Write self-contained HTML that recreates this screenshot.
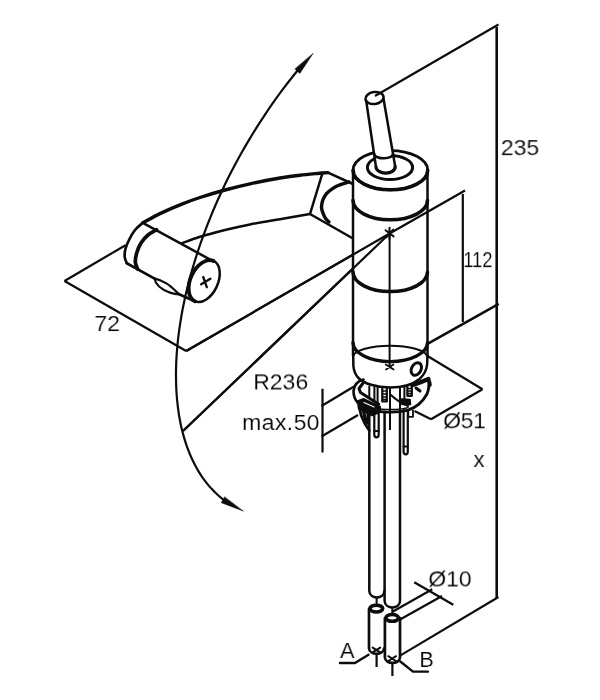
<!DOCTYPE html>
<html lang="en">
<head>
<meta charset="utf-8">
<title>Technical drawing</title>
<style>
html,body{margin:0;padding:0;background:#fff;}
body{width:600px;height:700px;overflow:hidden;}
svg{display:block;filter:grayscale(1);}
svg text{will-change:transform;font-family:"Liberation Sans",sans-serif;fill:#000;}
</style>
</head>
<body>
<svg width="600" height="700" viewBox="0 0 600 700">
<rect x="0" y="0" width="600" height="700" fill="#ffffff"/>
<g fill="none" stroke="#0c0c0c" stroke-linecap="round" stroke-linejoin="round">
<line x1="64.5" y1="281" x2="186.2" y2="351" stroke-width="2.2" stroke-linecap="butt"/>
<line x1="64.5" y1="281" x2="125.5" y2="245.2" stroke-width="2.2" stroke-linecap="butt"/>
<line x1="186.2" y1="351" x2="389.6" y2="233.5" stroke-width="2.2" stroke-linecap="butt"/>
<line x1="183" y1="431" x2="389.6" y2="233.5" stroke-width="2.2" stroke-linecap="butt"/>
<path d="M142.8,222.8 C145.7,221.3 153.4,216.8 160.0,213.6 C166.6,210.4 175.8,206.4 182.5,203.8 C189.2,201.1 192.9,199.8 200.0,197.5 C207.1,195.2 216.7,192.3 225.0,190.0 C233.3,187.7 240.8,185.8 250.0,183.8 C259.2,181.8 271.7,179.4 280.0,178.0 C288.3,176.6 293.0,176.0 300.0,175.2 C307.0,174.4 318.3,173.4 322.0,173.0 L328,172.6 L353,184 L353,238 L310,214 L310,214 L280,219.2 L250,224.4 L225,230 L200,236.8 L181,243.6 Z" stroke-width="0" fill="#fff" stroke="none"/>
<path d="M142.8,222.8 C145.7,221.3 153.4,216.8 160.0,213.6 C166.6,210.4 175.8,206.4 182.5,203.8 C189.2,201.1 192.9,199.8 200.0,197.5 C207.1,195.2 216.7,192.3 225.0,190.0 C233.3,187.7 240.8,185.8 250.0,183.8 C259.2,181.8 271.7,179.4 280.0,178.0 C288.3,176.6 293.0,176.0 300.0,175.2 C307.0,174.4 318.3,173.4 322.0,173.0 L328,172.6" stroke-width="3.4" fill="none" />
<path d="M328,172.6 L353,184" stroke-width="2.5" fill="none" />
<path d="M181.0,243.6 C184.2,242.5 192.7,239.1 200.0,236.8 C207.3,234.5 216.7,232.1 225.0,230.0 C233.3,227.9 240.8,226.2 250.0,224.4 C259.2,222.6 270.0,220.9 280.0,219.2 C290.0,217.5 305.0,214.9 310.0,214.0" stroke-width="2.5" fill="none" />
<path d="M322.5,173 L310,214 L353,238.5" stroke-width="2.5" fill="none" />
<path d="M349.0,182.0 C346.8,182.8 339.9,184.3 336.0,186.5 C332.1,188.7 327.9,191.6 325.5,195.0 C323.1,198.4 321.6,203.2 321.5,207.0 C321.4,210.8 323.8,215.0 325.0,217.5 C326.2,220.0 328.3,221.2 329.0,222.0" stroke-width="3.4" fill="none" />
<path d="M142.8,222.8 C141.5,224.0 137.3,227.1 135.0,230.0 C132.7,232.9 130.6,236.8 129.0,240.0 C127.4,243.2 126.1,246.2 125.4,249.0 C124.7,251.8 124.5,254.6 124.7,257.0 C124.9,259.4 126.5,262.2 126.8,263.2 L193,300.5 L210.4,260 L142.8,222.8 Z" stroke-width="0" fill="#fff" stroke="none"/>
<path d="M142.8,222.8 C141.5,224.0 137.3,227.1 135.0,230.0 C132.7,232.9 130.6,236.8 129.0,240.0 C127.4,243.2 126.1,246.2 125.4,249.0 C124.7,251.8 124.5,254.6 124.7,257.0 C124.9,259.4 126.5,262.2 126.8,263.2" stroke-width="2.7" fill="none" />
<path d="M156.5,229.8 C155.1,230.7 150.6,232.8 148.0,235.0 C145.4,237.2 142.9,240.0 141.0,243.0 C139.1,246.0 137.6,249.8 136.7,253.0 C135.8,256.2 135.2,259.3 135.3,262.0 C135.5,264.7 137.2,267.8 137.6,269.0" stroke-width="3.6999999999999997" fill="none" />
<line x1="142.8" y1="222.8" x2="210.2" y2="259.6" stroke-width="2.5" stroke-linecap="butt"/>
<path d="M126.8,263.2 L154.6,278.6 M179.2,294.2 L193,300.5" stroke-width="2.7" fill="none" />
<path d="M154.4,278.4 C155.5,284.5 161,289.5 170,292.6 C173.5,293.8 176.5,294.3 179.2,294.4 C176,291.5 171.5,286.5 166.4,283.4 C162,280.8 158,279.3 154.4,278.4 Z" stroke-width="2.2" fill="none" />
<ellipse cx="204.2" cy="281.1" rx="13.7" ry="22.2" stroke-width="2.5" fill="#fff" transform="rotate(25 204.2 281.1)"/>
<path d="M204.2,258.9 A13.7,22.2 0 0 0 204.2,303.3" transform="rotate(25 204.2 281.1)" stroke-width="3.8" fill="none"/>
<path d="M201.2,284.3 L210.4,278.8 M203.2,277 L206.8,287.2" stroke-width="2.3" fill="none" />
<path d="M353,170 L353,366 C354,376 362,383 372,385.5 L408,385.5 C418,383 426,376 427.5,366 L427.5,170 Z" stroke-width="0" fill="#fff" stroke="none"/>
<line x1="186.2" y1="351" x2="389.6" y2="233.5" stroke-width="2.2" stroke-linecap="butt"/>
<line x1="183" y1="431" x2="389.6" y2="233.5" stroke-width="2.2" stroke-linecap="butt"/>
<line x1="389.6" y1="233.5" x2="465" y2="190.5" stroke-width="2.2" stroke-linecap="butt"/>
<line x1="353" y1="170" x2="353" y2="356" stroke-width="2.5" stroke-linecap="butt"/>
<line x1="427.5" y1="170" x2="427.5" y2="356" stroke-width="2.5" stroke-linecap="butt"/>
<ellipse cx="390.4" cy="170.2" rx="37.3" ry="19.6" stroke-width="2.8" fill="#fff"/>
<path d="M353.1,170.2 A37.3,19.6 0 0 0 427.7,170.2" stroke-width="3.6" fill="none" />
<ellipse cx="390" cy="167.5" rx="22.6" ry="12" stroke-width="3" fill="none"/>
<path d="M353,200.3 A37.25,19.5 0 0 0 427.5,200.3" stroke-width="3.6" fill="none" />
<path d="M353,272 A37.25,19.5 0 0 0 427.5,272" stroke-width="3.6" fill="none" />
<path d="M353,342.6 A37.25,19 0 0 0 427.5,342.6" stroke-width="3.4" fill="none" />
<path d="M353.2,356 A37,11 0 0 1 427,356" stroke-width="2.0" fill="none" />
<path d="M353.2,356 L353.4,366 C353.8,371 355.5,375 358.5,378 C364,383.5 376,387.4 390,387.6 C402,387.4 413,384.5 419.5,379 C424,375 426.6,370 427.2,364 L427.4,356" stroke-width="2.5" fill="none" />
<line x1="389.6" y1="233.5" x2="389.6" y2="367" stroke-width="2.0" stroke-linecap="butt"/>
<path d="M385.6,230.2 L393.6,236.4 M393.2,229.6 L386.2,237.2 M389.5,227.8 L389.5,239" stroke-width="2" fill="none" />
<path d="M385.8,364.4 L393.6,369.4 M393.4,364.4 L386,369.4" stroke-width="1.8" fill="none" />
<ellipse cx="416.3" cy="369" rx="4.7" ry="6.7" stroke-width="3" fill="none" transform="rotate(28 416.3 369)"/>
<path d="M366,99.5 L376,167 A9.6,6 0 0 0 395.2,166.5 L383.3,97.5 Z" stroke-width="0" fill="#fff" stroke="none"/>
<line x1="366" y1="99.5" x2="376" y2="167" stroke-width="2.5" stroke-linecap="butt"/>
<line x1="383.3" y1="97.5" x2="395.2" y2="166.5" stroke-width="2.5" stroke-linecap="butt"/>
<ellipse cx="374.5" cy="98" rx="9.1" ry="6" stroke-width="2.5" fill="#fff" transform="rotate(-8 374.5 98)"/>
<path d="M376,167 A9.6,6.4 0 0 0 395.2,166.5" stroke-width="3.2" fill="none" />
<path d="M374.4,154.3 A9.2,4.2 0 0 0 393,153.8" stroke-width="2.6" fill="none" />
<line x1="375" y1="96" x2="498.5" y2="24.5" stroke-width="2.1" stroke-linecap="butt"/>
<line x1="496.7" y1="27" x2="496.7" y2="598" stroke-width="2.6" stroke-linecap="butt"/>
<line x1="462.8" y1="194" x2="462.8" y2="322" stroke-width="2.2" stroke-linecap="butt"/>
<line x1="427.5" y1="343.9" x2="498.75" y2="303.9" stroke-width="2.5" stroke-linecap="butt"/>
<line x1="400.5" y1="655.4" x2="498.5" y2="597" stroke-width="2.1" stroke-linecap="butt"/>
<line x1="427.5" y1="356" x2="482.5" y2="389.3" stroke-width="2.2" stroke-linecap="butt"/>
<line x1="431" y1="419.3" x2="482.5" y2="389.3" stroke-width="2.2" stroke-linecap="butt"/>
<line x1="414.5" y1="411" x2="431" y2="419.3" stroke-width="2.2" stroke-linecap="butt"/>
<line x1="322.5" y1="388.75" x2="322.5" y2="452.5" stroke-width="2.2" stroke-linecap="butt"/>
<line x1="321.5" y1="406" x2="354" y2="386.5" stroke-width="2.2" stroke-linecap="butt"/>
<line x1="321.5" y1="436.5" x2="358" y2="415" stroke-width="2.2" stroke-linecap="butt"/>
<path d="M363.5,379.5 C358,381 354,385 353.5,391 C353.5,396 355,400 358,403" stroke-width="2.6" fill="none" />
<path d="M380,411.6 C390,412.6 401,412.2 408,410.2 C416,407.5 423,401.5 427,394 C429,389 429.3,385 428.6,381.5" stroke-width="2.8" fill="none" />
<path d="M381,409.2 C391,410 401,409.6 408,407.6" stroke-width="1.5" fill="none" />
<path d="M391,395 C395,399 401,403 408,406" stroke-width="2" fill="none" />
<path d="M362.8,383.5 L359,388.5 L360.5,392.5 L378.8,404.2" stroke-width="3" fill="none" />
<path d="M369.3,386.5 L369.3,398 M374.4,387 L374.4,402 M377.6,387 L377.6,403.5" stroke-width="2" fill="none" />
<path d="M390,388 L390,412" stroke-width="2" fill="none" />
<path d="M400,387 L400,412 M404.4,387 L404.4,400" stroke-width="2" fill="none" />
<path d="M382.3,388.5 L382.3,401.5 L386.8,401.5 L386.8,388.5" stroke-width="2.2" fill="none" />
<path d="M382.3,391 L386.8,391 M382.3,394 L386.8,394 M382.3,397 L386.8,397 M382.3,399.6 L386.8,399.6" stroke-width="1.6" fill="none" />
<path d="M407.4,386.5 L407.4,396 L411.8,396 L411.8,385.5" stroke-width="2.2" fill="none" />
<path d="M407.4,388.5 L411.8,388.5 M407.4,391 L411.8,391 M407.4,393.6 L411.8,393.6" stroke-width="1.6" fill="none" />
<path d="M401.5,399 L410,399.5 L410.5,404.5 L402,404.5 Z" stroke-width="1.6" fill="#0c0c0c" />
<path d="M408.3,412 L408.3,416.8 L413,416.8 L413,410.5" stroke-width="1.8" fill="none" />
<path d="M412,385.2 L420,382.5 L428.5,379" stroke-width="4.2" fill="none" />
<path d="M425,379.8 L430,381.5 L430.6,385 L428.8,386.5" stroke-width="2.4" fill="none" />
<path d="M416,388 L420,391" stroke-width="3" fill="none" />
<path d="M357.6,401 L363.5,398.8 L380.2,406.6 L380.2,412 L372,415.6 L358.6,408.6 Z" stroke-width="1.6" fill="#0c0c0c" />
<path d="M364,402.5 L374,407" stroke-width="1.2" fill="none" stroke="#fff"/>
<path d="M359.4,408 L361.2,415.5 L364.8,423.5 L369.3,430.5" stroke-width="2.8" fill="none" />
<path d="M363.6,411.5 L365,418 L367.5,423" stroke-width="3.2" fill="none" />
<path d="M367.6,413 L367.6,420" stroke-width="2.4" fill="none" />
<path d="M374.3,413 L374.3,434.5 C374.3,438.2 378.7,438.2 378.7,434.5 L378.7,413" stroke-width="2.2" fill="none" />
<path d="M374.3,431 L378.7,431" stroke-width="2.2" fill="none" />
<path d="M403.6,410 L403.6,451.5 C403.6,455.2 407.8,455.2 407.8,451.5 L407.8,410" stroke-width="2.2" fill="none" />
<path d="M403.6,446.5 L407.8,446.5" stroke-width="2.2" fill="none" />
<line x1="390" y1="412" x2="390" y2="430" stroke-width="2" stroke-linecap="butt"/>
<path d="M369.3,415 L369.3,591 C369.5,599.5 384.2,599.5 384.4,591" stroke-width="2.5" fill="none" />
<path d="M384.6,412 L384.6,601 C385,609.5 399.8,609.5 400,601 L400,412" stroke-width="2.5" fill="none" />
<line x1="376.6" y1="597" x2="376.6" y2="605" stroke-width="2.0" stroke-linecap="butt"/>
<line x1="392.3" y1="607.5" x2="392.3" y2="614" stroke-width="2.0" stroke-linecap="butt"/>
<path d="M369,609 L369,648.5 C369.5,655.5 383.5,655.5 384,648.5" stroke-width="2.7" fill="none" />
<ellipse cx="376.3" cy="608.6" rx="6.4" ry="3.4" stroke-width="3.6" fill="#fff"/>
<path d="M384.9,618 L384.9,657.5 C385.5,664.6 399.6,664.6 400,657.5 L400,618 Z" stroke-width="0" fill="#fff" stroke="none"/>
<path d="M384.9,618 L384.9,657.5 C385.5,664.6 399.6,664.6 400,657.5 L400,618" stroke-width="2.7" fill="none" />
<ellipse cx="392.2" cy="617.9" rx="6.3" ry="3.4" stroke-width="3.6" fill="#fff"/>
<path d="M372.6,647.6 L380.2,652.4 M380.2,647.6 L372.6,652.4" stroke-width="2" fill="none" />
<path d="M388.3,656.2 L396,661 M396,656.2 L388.3,661" stroke-width="2" fill="none" />
<line x1="376.6" y1="655" x2="376.6" y2="667" stroke-width="2.2" stroke-linecap="butt"/>
<line x1="392.4" y1="664" x2="392.4" y2="676" stroke-width="2.2" stroke-linecap="butt"/>
<line x1="392.5" y1="611.8" x2="432.25" y2="589.3" stroke-width="2.2" stroke-linecap="butt"/>
<line x1="400.5" y1="619.3" x2="442" y2="596" stroke-width="2.2" stroke-linecap="butt"/>
<line x1="414.25" y1="582.2" x2="453.25" y2="604.7" stroke-width="2.2" stroke-linecap="butt"/>
<path d="M340,663 L355,663 L368.5,654.8" stroke-width="2.4000000000000004" fill="none" />
<path d="M428,671.6 L413,671.6 L400.3,661.5" stroke-width="2.4000000000000004" fill="none" />
<path d="M299.9,67.7 C298.4,69.6 293.9,75.0 291.0,78.8 C288.0,82.5 285.1,86.3 282.2,90.2 C279.4,94.0 276.5,97.9 273.7,101.9 C270.9,105.8 268.2,109.8 265.5,113.8 C262.8,117.9 260.1,122.0 257.5,126.1 C254.9,130.2 252.3,134.4 249.8,138.6 C247.3,142.8 244.8,147.0 242.4,151.3 C240.0,155.5 237.7,159.8 235.4,164.1 C233.1,168.4 230.8,172.8 228.6,177.1 C226.4,181.5 224.3,185.9 222.3,190.3 C220.2,194.7 218.2,199.1 216.2,203.5 C214.3,207.9 212.4,212.4 210.6,216.8 C208.8,221.2 207.0,225.7 205.4,230.1 C203.7,234.6 202.1,239.0 200.5,243.5 C199.0,247.9 197.5,252.4 196.1,256.8 C194.7,261.2 193.3,265.7 192.1,270.1 C190.8,274.5 189.6,278.9 188.5,283.3 C187.4,287.6 186.3,292.0 185.3,296.3 C184.4,300.7 183.5,305.0 182.6,309.3 C181.8,313.6 181.1,317.8 180.4,322.1 C179.7,326.3 179.1,330.5 178.6,334.7 C178.1,338.8 177.6,342.9 177.3,347.0 C176.9,351.1 176.6,355.1 176.4,359.1 C176.2,363.1 176.1,367.1 176.0,371.0 C175.9,374.9 176.0,378.7 176.1,382.5 C176.2,386.3 176.3,390.1 176.6,393.7 C176.8,397.4 177.2,401.1 177.6,404.6 C178.0,408.2 178.5,411.7 179.0,415.1 C179.6,418.5 180.2,421.9 180.9,425.2 C181.7,428.5 182.4,431.7 183.3,434.9 C184.2,438.1 185.1,441.1 186.1,444.1 C187.1,447.2 188.2,450.1 189.4,452.9 C190.5,455.8 191.8,458.6 193.1,461.2 C194.4,463.9 195.8,466.5 197.2,469.1 C198.7,471.6 200.2,474.0 201.7,476.4 C203.3,478.7 205.0,481.0 206.7,483.1 C208.4,485.3 210.2,487.4 212.1,489.3 C213.9,491.3 215.8,493.2 217.8,495.0 C219.8,496.8 221.8,498.5 223.9,500.1 C226.0,501.7 229.3,503.9 230.4,504.6" stroke-width="2.2" fill="none" />
<path d="M313.0,53.6 L299.9,73.4 L295.0,69.1 Z" stroke-width="0.5" fill="#0c0c0c" />
<path d="M243.0,511.0 L221.3,502.7 L224.5,497.0 Z" stroke-width="0.5" fill="#0c0c0c" />
<text transform="translate(500.85,155.1) rotate(0.05) scale(0.1000,0.0980)" font-size="230" stroke="#fff" stroke-width="1.5">235</text>
<text transform="translate(463.2,267.1) rotate(0.05) scale(0.0800,0.0980)" font-size="230" stroke="#fff" stroke-width="1.5">112</text>
<text transform="translate(94.4,331) rotate(0.05) scale(0.1000,0.0980)" font-size="230" stroke="#fff" stroke-width="1.5">72</text>
<text transform="translate(253.2,389.4) rotate(0.05) scale(0.1000,0.0980)" font-size="230" stroke="#fff" stroke-width="1.5">R236</text>
<text transform="translate(242.1,429.9) rotate(0.05) scale(0.1000,0.0980)" font-size="230" stroke="#fff" stroke-width="1.5" letter-spacing="4.0">max.50</text>
<text transform="translate(443.1,428.2) rotate(0.05) scale(0.1000,0.0980)" font-size="230" stroke="#fff" stroke-width="1.5" letter-spacing="-3.0">Ø51</text>
<text transform="translate(428.3,586.4) rotate(0.05) scale(0.1000,0.0980)" font-size="230" stroke="#fff" stroke-width="1.5">Ø10</text>
<text transform="translate(473.5,467) rotate(0.05) scale(0.1000,0.0980)" font-size="220" stroke="#fff" stroke-width="1.5">x</text>
<text transform="translate(340,658) rotate(0.05) scale(0.1000,0.0980)" font-size="217" stroke="#fff" stroke-width="1.5">A</text>
<text transform="translate(419.3,667) rotate(0.05) scale(0.1000,0.0980)" font-size="217" stroke="#fff" stroke-width="1.5">B</text>
</g>
</svg>
</body>
</html>
